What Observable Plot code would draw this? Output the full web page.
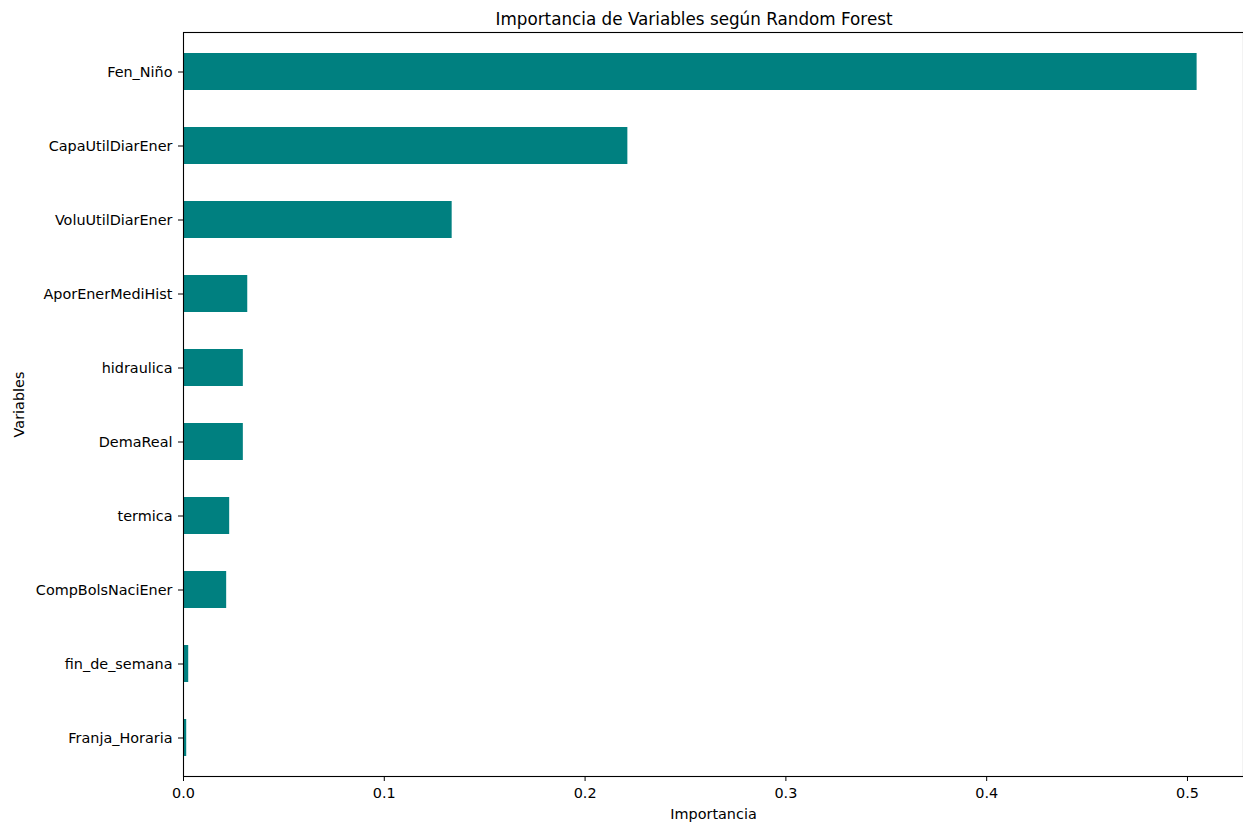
<!DOCTYPE html>
<html>
<head>
<meta charset="utf-8">
<script src="https://cdn.jsdelivr.net/npm/d3@7"></script>
<script src="https://cdn.jsdelivr.net/npm/@observablehq/plot@0.6"></script>
<style>
  html, body { margin: 0; padding: 0; background: white; overflow: hidden; }
</style>
</head>
<body>
<div id="chart"></div>
<script>
const variables = ["Fen_Niño", "CapaUtilDiarEner", "VoluUtilDiarEner", "AporEnerMediHist", "hidraulica", "DemaReal", "termica", "CompBolsNaciEner", "fin_de_semana", "Franja_Horaria"];
const importances = [0.5048, 0.2213, 0.1338, 0.0320, 0.0298, 0.0298, 0.0230, 0.0215, 0.0026, 0.0016];
const xTicks = [0, 0.1, 0.2, 0.3, 0.4, 0.5];
const titleText = "Importancia de Variables según Random Forest";
const xLabel = "Importancia";
const yLabel = "Variables";

const data = variables.map((v, i) => ({variable: v, importance: importances[i]}));

const chart = Plot.plot({
  width: 1243,
  height: 822,
  marginLeft: 183,
  marginRight: 0,
  marginTop: 32,
  marginBottom: 46,
  style: {fontFamily: "DejaVu Sans", fontSize: "14.4px", color: "black", background: "white"},
  x: {domain: [0, 0.5279], ticks: xTicks, tickFormat: d3.format(".1f"), label: null},
  y: {domain: variables, paddingInner: 0.5, paddingOuter: 0.25, label: null},
  marks: [
    Plot.barX(data, {x: "importance", y: "variable", fill: "#008080"}),
    Plot.frame({stroke: "black", strokeWidth: 1.1}),
    Plot.axisX({ticks: xTicks, tickFormat: d3.format(".1f"), tickSize: 5, tickPadding: 6, label: null, fontSize: 14.4}),
    Plot.axisY({tickSize: 5, tickPadding: 6, label: null, fontSize: 14.4}),
    Plot.text([titleText], {frameAnchor: "top", dy: -19, dx: -19.5, fontSize: 16.8, fill: "black"}),
    Plot.text([xLabel], {frameAnchor: "bottom", dy: 42, fontSize: 14.4, fill: "black"}),
    Plot.text([yLabel], {frameAnchor: "left", dx: -164, rotate: -90, textAnchor: "middle", fontSize: 14.4, fill: "black"})
  ]
});
document.getElementById("chart").appendChild(chart);
</script>
</body>
</html>
